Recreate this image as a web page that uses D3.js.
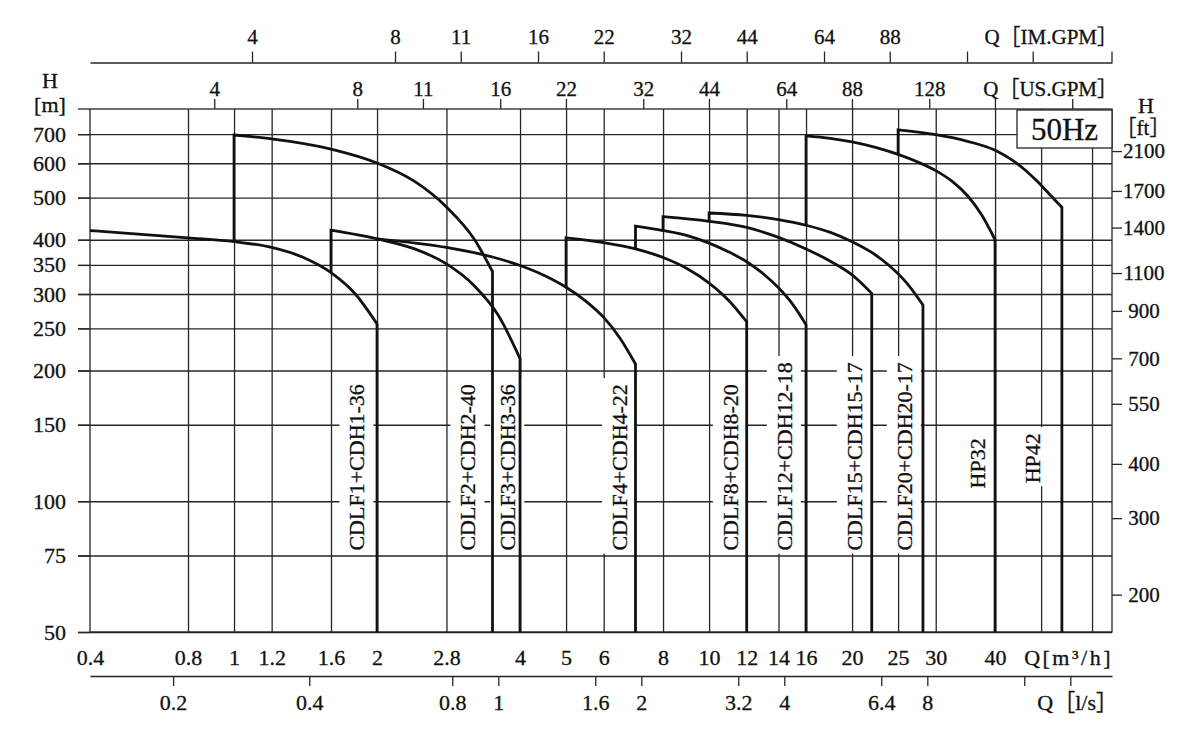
<!DOCTYPE html>
<html>
<head>
<meta charset="utf-8">
<script src="https://cdn.jsdelivr.net/npm/d3@7"></script>
<style>
  body { margin: 0; background: #fff; }
  svg text {
    font-family: "Liberation Serif", "Times New Roman", "Noto Sans CJK SC", serif;
    fill: #111; stroke: #111; stroke-width: 0.3;
  }
</style>
</head>
<body>
<div id="chart"></div>
<script>
// ---- data ----
// flow grid / tick values (m3/h)
const qGrid = [0.8, 1, 1.2, 1.6, 2, 2.8, 4, 5, 6, 8, 10, 12, 14, 16, 20, 25, 30, 40, 50, 64];
const qLabels = [0.4, 0.8, 1, 1.2, 1.6, 2, 2.8, 4, 5, 6, 8, 10, 12, 14, 16, 20, 25, 30, 40];
// secondary flow axes
const lsTicks = [0.2, 0.4, 0.8, 1, 1.6, 2, 3.2, 4, 6.4, 8, 12.8, 16];
const lsLabels = [0.2, 0.4, 0.8, 1, 1.6, 2, 3.2, 4, 6.4, 8];
const usTicks = [4, 8, 11, 16, 22, 32, 44, 64, 88, 128, 176, 256];
const usLabels = [4, 8, 11, 16, 22, 32, 44, 64, 88, 128];
const imTicks = [4, 8, 11, 16, 22, 32, 44, 64, 88, 128, 176];
const imLabels = [4, 8, 11, 16, 22, 32, 44, 64, 88];
// head ticks
const hTicks = [50, 75, 100, 150, 200, 250, 300, 350, 400, 500, 600, 700];
const ftTicks = [200, 300, 400, 550, 700, 900, 1100, 1400, 1700, 2100];

const models = ["CDLF1+CDH1-36", "CDLF2+CDH2-40", "CDLF3+CDH3-36", "CDLF4+CDH4-22",
  "CDLF8+CDH8-20", "CDLF12+CDH12-18", "CDLF15+CDH15-17", "CDLF20+CDH20-17", "HP32", "HP42"];

// [Q m3/h, H m] along the top of each range
const cdlf1 = [[0.4, 420], [0.8, 404], [1, 396], [1.2, 384], [1.4, 364], [1.6, 336], [1.8, 300], [2, 256]];
const cdlf2 = [[1, 697], [1.2, 683], [1.6, 647], [2, 601], [2.4, 545], [2.8, 476], [3.2, 402], [3.5, 338]];
const cdlf3 = [[1.6, 421], [2, 402], [2.4, 381], [2.8, 352], [3.2, 314], [3.6, 268], [4, 213]];
const cdlf4 = [[2, 402], [2.8, 384], [3.5, 365], [4, 349], [4.5, 331], [5, 311], [5.5, 289], [6, 265], [6.5, 237], [7, 207]];
const cdlf8 = [[5, 404], [6, 394], [7, 381], [8, 364], [9, 343], [10, 318], [11, 290], [12, 259]];
const cdlf12 = [[7, 430], [8, 420], [9, 409], [10, 393], [11, 375], [12, 356], [13, 334], [14, 310], [15, 284], [16, 255]];
const cdlf15 = [[8, 452], [10, 441], [12, 427], [14, 405], [16, 381], [18, 357], [20, 332], [22, 301]];
const cdlf20 = [[10, 461], [12, 455], [14, 445], [16, 432], [18, 416], [20, 396], [22, 374], [24, 348], [26, 319], [28.2, 283]];
const hp32 = [[16, 694], [18, 685], [20, 672], [22.5, 652], [25, 629], [27.5, 604], [30, 577], [32.5, 545], [35, 505], [37.5, 456], [40, 400]];
const hp42 = [[25, 716], [30, 698], [35, 674], [40, 643], [43, 615], [46, 582], [49, 546], [52, 510], [55.3, 475]];
const curves = [cdlf1, cdlf2, cdlf3, cdlf4, cdlf8, cdlf12, cdlf15, cdlf20, hp32, hp42];
// head the starting vertical rises from (null = no vertical)
const startHead = [null, 396, 336, null, 311, 381, 420, 441, 432, 629];

// label anchors, chart units (Q m3/h, H m at text start)
const labelFlow = [1.81, 3.10, 3.76, 6.46, 11.06, 14.37, 20.17, 25.7, 36.7, 47.9];
const labelHead = [77, 77, 77, 77, 77, 77, 77, 77, 107, 110];

// ---- layout ----
const width = 1200, height = 744;
const plotLeft = 90, plotRight = 1112, plotTop = 109, plotBottom = 632;
const gridColor = "#262626";
const gridWidth = 1.3;

const svg = d3.select("#chart").append("svg")
  .attr("width", width)
  .attr("height", height);

// the first segment (0.4 - 0.8) is squeezed on the original sheet
const x = d3.scaleLog().domain([0.4, 0.8, 70.5]).range([plotLeft, 188, plotRight]);
const y = d3.scaleLog().domain([50, 800]).range([plotBottom, plotTop]);
const xLs = x.copy().domain(x.domain().map(v => v / 3.6));
const xUs = x.copy().domain(x.domain().map(v => v / 0.2271247));
const xIm = x.copy().domain(x.domain().map(v => v / 0.2727654));
const yFt = y.copy().domain(y.domain().map(v => v / 0.3048));

const styleAxis = (g, size) => {
  g.attr("font-size", size).attr("font-family", null).attr("color", gridColor);
  g.selectAll("line").attr("stroke-width", gridWidth);
  g.selectAll("text").attr("fill", "#111");
};

// grid
svg.append("g")
  .attr("transform", `translate(0,${plotBottom})`)
  .call(d3.axisBottom(x).tickValues(qGrid).tickSize(-(plotBottom - plotTop)).tickFormat(""))
  .call(g => g.select(".domain").remove())
  .call(g => styleAxis(g, 10));

svg.append("g")
  .attr("transform", `translate(${plotRight},0)`)
  .call(d3.axisLeft(y).tickValues(hTicks).tickSize(plotRight - plotLeft + 12).tickFormat(""))
  .call(g => g.select(".domain").remove())
  .call(g => styleAxis(g, 10));

svg.append("rect")
  .attr("x", plotLeft).attr("y", plotTop)
  .attr("width", plotRight - plotLeft).attr("height", plotBottom - plotTop)
  .attr("fill", "none").attr("stroke", gridColor).attr("stroke-width", gridWidth);
svg.append("line")
  .attr("x1", plotLeft - 12).attr("x2", plotLeft).attr("y1", plotTop).attr("y2", plotTop)
  .attr("stroke", gridColor).attr("stroke-width", gridWidth);

// model labels with white backing
models.forEach((m, i) => {
  const g = svg.append("g")
    .attr("transform", `translate(${x(labelFlow[i])},${y(labelHead[i])}) rotate(-90)`);
  const bg = g.append("rect").attr("fill", "#fff");
  const t = g.append("text").attr("dy", "0.35em").attr("font-size", 22).text(m);
  const len = t.node().getComputedTextLength();
  bg.attr("x", -3).attr("y", -17).attr("width", len + 9).attr("height", 34);
});

// curves
const line = d3.line()
  .x(d => x(d[0]))
  .y(d => y(d[1]))
  .curve(d3.curveMonotoneX);

curves.forEach((pts, i) => {
  const first = pts[0], last = pts[pts.length - 1];
  let d = line(pts);
  if (startHead[i] !== null) {
    d = `M${x(first[0])},${y(startHead[i])}L` + d.slice(1);
  }
  d += `L${x(last[0])},${y(y.domain()[0])}`;
  svg.append("path")
    .attr("d", d)
    .attr("fill", "none")
    .attr("stroke", "#111")
    .attr("stroke-width", 2.8)
    .attr("stroke-linejoin", "miter");
});

// 50Hz box
svg.append("rect")
  .attr("x", 1017).attr("y", 110).attr("width", plotRight - 1017).attr("height", 38)
  .attr("fill", "#fff").attr("stroke", gridColor).attr("stroke-width", gridWidth);
svg.append("text")
  .attr("x", 1064.5).attr("y", 140)
  .attr("text-anchor", "middle").attr("font-size", 31)
  .text("50Hz");

// left H axis (m)
svg.append("g")
  .attr("transform", `translate(${plotLeft},0)`)
  .call(d3.axisLeft(y).tickValues(hTicks).tickSize(12).tickPadding(12).tickFormat(d3.format("d")))
  .call(g => g.select(".domain").remove())
  .call(g => styleAxis(g, 22));

// right H axis (ft)
svg.append("g")
  .attr("transform", `translate(${plotRight},0)`)
  .call(d3.axisRight(yFt).tickValues(ftTicks).tickSize(10).tickFormat(d3.format("d")))
  .call(g => g.select(".domain").remove())
  .call(g => styleAxis(g, 21))
  .call(g => g.selectAll("text").attr("x", 32).attr("text-anchor", "middle"));

// bottom m3/h labels
svg.append("g")
  .attr("transform", `translate(0,${plotBottom})`)
  .call(d3.axisBottom(x).tickValues(qLabels).tickSize(0).tickFormat(d => d))
  .call(g => g.select(".domain").remove())
  .call(g => styleAxis(g, 22))
  .call(g => g.selectAll("text").attr("y", 33).attr("dy", null));

// bottom l/s axis
svg.append("g")
  .attr("transform", "translate(0,676)")
  .call(d3.axisBottom(xLs).tickValues(lsTicks).tickSize(10).tickSizeOuter(0)
    .tickFormat(d => lsLabels.includes(d) ? d : ""))
  .call(g => styleAxis(g, 22))
  .call(g => g.select(".domain").attr("stroke-width", gridWidth))
  .call(g => g.selectAll("text").attr("y", 34).attr("dy", null));

// top US.GPM axis (on the plot border)
svg.append("g")
  .attr("transform", `translate(0,${plotTop})`)
  .call(d3.axisTop(xUs).tickValues(usTicks).tickSize(10).tickPadding(3)
    .tickFormat(d => usLabels.includes(d) ? d : ""))
  .call(g => g.select(".domain").remove())
  .call(g => styleAxis(g, 21))
  .call(g => g.selectAll("text").attr("dy", null));

// top IM.GPM axis
svg.append("g")
  .attr("transform", "translate(0,62.5)")
  .call(d3.axisTop(xIm).tickValues(imTicks).tickSize(11).tickSizeOuter(0).tickPadding(7.5)
    .tickFormat(d => imLabels.includes(d) ? d : ""))
  .call(g => styleAxis(g, 21))
  .call(g => g.select(".domain").attr("stroke-width", gridWidth))
  .call(g => g.selectAll("text").attr("dy", null));
svg.append("line")
  .attr("x1", plotRight).attr("x2", plotRight).attr("y1", 51.5).attr("y2", 62.5)
  .attr("stroke", gridColor).attr("stroke-width", gridWidth);

// axis titles
const title = (tx, ty, s, anchor, size) => svg.append("text")
  .attr("x", tx).attr("y", ty)
  .attr("text-anchor", anchor)
  .attr("font-size", size)
  .text(s);

title(50, 88, "H", "middle", 22);
title(50, 112, "[m]", "middle", 22);
title(1146, 113, "H", "middle", 22);
title(1143, 135, "［ft］", "middle", 21);
title(1118, 44, "Q［IM.GPM］", "end", 21);
title(1118, 96, "Q［US.GPM］", "end", 21);
title(1113, 665, "Q[m³/h]", "end", 22).attr("letter-spacing", 2.5);
title(1118, 710, "Q［l/s］", "end", 22);
</script>
</body>
</html>
